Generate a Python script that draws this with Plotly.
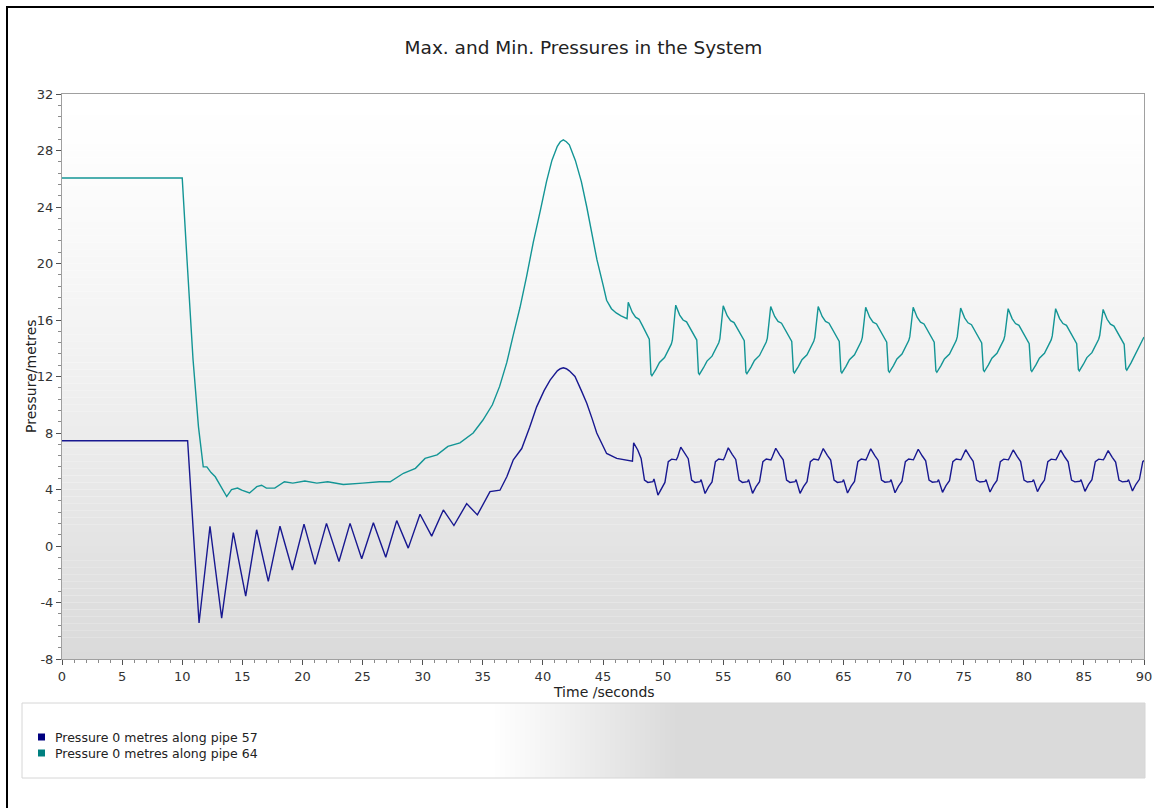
import plotly.graph_objects as go

# ---------------------------------------------------------------- text
TITLE = "Max. and Min. Pressures in the System"
X_TITLE = "Time /seconds"
Y_TITLE = "Pressure/metres"
NAME_57 = "Pressure 0 metres along pipe 57"
NAME_64 = "Pressure 0 metres along pipe 64"

# ---------------------------------------------------------------- axes
X_RANGE = [0, 90]
Y_RANGE = [-8, 32]
X_TICKS = [0, 5, 10, 15, 20, 25, 30, 35, 40, 45, 50, 55, 60, 65, 70, 75, 80, 85, 90]
Y_TICKS = [-8, -4, 0, 4, 8, 12, 16, 20, 24, 28, 32]

# ---------------------------------------------------------------- series: pipe 57 (blue)
time_57 = (
    [0.0, 10.45, 11.4, 12.31, 13.28, 14.25, 15.28, 16.19, 17.16, 18.13, 19.16, 20.13, 21.05, 22.0,
     23.04, 23.96, 24.93, 25.9, 26.93, 27.84, 28.8, 29.78, 30.75, 31.72, 32.6, 33.66, 34.55, 35.6,
     36.43, 37.0, 37.54, 38.24, 38.9, 39.48, 40.1, 40.6, 41.2, 41.45, 41.7, 41.95, 42.2, 42.67,
     43.2, 43.65, 44.1, 44.48, 45.3, 46.14, 47.45]
    + [47.55, 47.89, 48.17, 48.45, 48.73, 49.15, 49.24, 49.57, 49.86, 50.15, 50.43, 50.71, 51.1, 51.21]
    + [51.47, 51.81, 52.09, 52.37, 52.65, 53.07, 53.16, 53.49, 53.78, 54.07, 54.35, 54.63, 55.02, 55.13]
    + [55.42, 55.76, 56.04, 56.32, 56.60, 57.02, 57.11, 57.44, 57.73, 58.02, 58.30, 58.58, 58.97, 59.08]
    + [59.37, 59.71, 59.99, 60.27, 60.55, 60.97, 61.06, 61.39, 61.68, 61.97, 62.25, 62.53, 62.92, 63.03]
    + [63.32, 63.66, 63.94, 64.22, 64.50, 64.92, 65.01, 65.34, 65.63, 65.92, 66.20, 66.48, 66.87, 66.98]
    + [67.27, 67.61, 67.89, 68.17, 68.45, 68.87, 68.96, 69.29, 69.58, 69.87, 70.15, 70.43, 70.82, 70.93]
    + [71.22, 71.56, 71.84, 72.12, 72.40, 72.82, 72.91, 73.24, 73.53, 73.82, 74.10, 74.38, 74.77, 74.88]
    + [75.17, 75.51, 75.79, 76.07, 76.35, 76.77, 76.86, 77.19, 77.48, 77.77, 78.05, 78.33, 78.72, 78.83]
    + [79.12, 79.46, 79.74, 80.02, 80.30, 80.72, 80.81, 81.14, 81.43, 81.72, 82.00, 82.28, 82.67, 82.78]
    + [83.07, 83.41, 83.69, 83.97, 84.25, 84.67, 84.76, 85.09, 85.38, 85.67, 85.95, 86.23, 86.62, 86.73]
    + [87.02, 87.36, 87.64, 87.92, 88.20, 88.62, 88.71, 89.04, 89.33, 89.62, 89.90, 90.0]
)
pressure_57 = (
    [7.45, 7.45, -5.45, 1.4, -5.1, 0.95, -3.55, 1.15, -2.5, 1.4, -1.7, 1.55, -1.3, 1.6,
     -1.1, 1.6, -0.9, 1.65, -0.8, 1.8, -0.15, 2.25, 0.7, 2.55, 1.45, 3.0, 2.2, 3.85,
     3.95, 4.9, 6.1, 6.9, 8.4, 9.85, 11.0, 11.75, 12.4, 12.55, 12.62, 12.55, 12.4, 12.0,
     11.0, 10.1, 9.0, 8.0, 6.55, 6.2, 6.0]
    + [7.3, 6.8, 6.2, 4.67, 4.5, 4.55, 4.75, 3.6, 4.1, 4.5, 5.97, 6.15, 6.1, 6.3]
    + [7.0, 6.52, 6.18, 4.67, 4.5, 4.55, 4.7, 3.72, 4.19, 4.54, 5.97, 6.16, 6.1, 6.3]
    + [6.95, 6.47, 6.13, 4.67, 4.5, 4.55, 4.7, 3.73, 4.2, 4.55, 5.97, 6.16, 6.1, 6.3]
    + [6.92, 6.44, 6.1, 4.67, 4.5, 4.55, 4.7, 3.73, 4.2, 4.55, 5.97, 6.16, 6.1, 6.3]
    + [6.9, 6.42, 6.08, 4.67, 4.5, 4.55, 4.7, 3.75, 4.22, 4.57, 5.97, 6.16, 6.1, 6.3]
    + [6.88, 6.4, 6.06, 4.67, 4.52, 4.56, 4.7, 3.77, 4.24, 4.59, 5.97, 6.16, 6.1, 6.3]
    + [6.85, 6.37, 6.03, 4.67, 4.52, 4.56, 4.7, 3.8, 4.27, 4.62, 5.97, 6.16, 6.1, 6.28]
    + [6.82, 6.34, 6.0, 4.67, 4.53, 4.57, 4.7, 3.82, 4.29, 4.64, 5.97, 6.15, 6.1, 6.28]
    + [6.8, 6.32, 5.98, 4.67, 4.53, 4.57, 4.7, 3.85, 4.32, 4.67, 5.97, 6.15, 6.1, 6.27]
    + [6.78, 6.3, 5.96, 4.67, 4.54, 4.58, 4.7, 3.87, 4.34, 4.69, 5.97, 6.15, 6.1, 6.26]
    + [6.76, 6.28, 5.94, 4.67, 4.54, 4.58, 4.7, 3.9, 4.37, 4.72, 5.97, 6.05]
)

# ---------------------------------------------------------------- series: pipe 64 (teal)
time_64 = (
    [0.0, 10.0, 10.4, 10.9, 11.35, 11.75, 12.05, 12.4, 12.75, 13.2, 13.7, 14.1, 14.6, 14.95, 15.6,
     16.2, 16.6, 17.0, 17.7, 18.5, 19.2, 20.2, 21.2, 22.1, 23.4, 25.0, 26.4, 27.3, 28.4, 29.4,
     30.2, 31.2, 32.1, 33.1, 34.2, 35.0, 35.8, 36.4, 37.0, 37.5, 38.1, 38.65, 39.2, 39.8, 40.3,
     40.75, 41.2, 41.45, 41.7, 41.95, 42.2, 42.7, 43.2, 43.65, 44.1, 44.5, 45.0, 45.3, 45.7,
     46.1, 46.5, 47.0]
    + [47.1, 47.43, 47.71, 48.0, 48.28, 48.7, 48.85, 48.99, 49.07, 49.41, 49.7, 50.12, 50.4, 50.68, 50.77]
    + [51.05, 51.38, 51.66, 51.95, 52.23, 52.65, 52.80, 52.94, 53.02, 53.36, 53.65, 54.07, 54.35, 54.63, 54.72]
    + [55.00, 55.33, 55.61, 55.90, 56.18, 56.60, 56.75, 56.89, 56.97, 57.31, 57.60, 58.02, 58.30, 58.58, 58.67]
    + [58.95, 59.28, 59.56, 59.85, 60.13, 60.55, 60.70, 60.84, 60.92, 61.26, 61.55, 61.97, 62.25, 62.53, 62.62]
    + [62.90, 63.23, 63.51, 63.80, 64.08, 64.50, 64.65, 64.79, 64.87, 65.21, 65.50, 65.92, 66.20, 66.48, 66.57]
    + [66.85, 67.18, 67.46, 67.75, 68.03, 68.45, 68.60, 68.74, 68.82, 69.16, 69.45, 69.87, 70.15, 70.43, 70.52]
    + [70.80, 71.13, 71.41, 71.70, 71.98, 72.40, 72.55, 72.69, 72.77, 73.11, 73.40, 73.82, 74.10, 74.38, 74.47]
    + [74.75, 75.08, 75.36, 75.65, 75.93, 76.35, 76.50, 76.64, 76.72, 77.06, 77.35, 77.77, 78.05, 78.33, 78.42]
    + [78.70, 79.03, 79.31, 79.60, 79.88, 80.30, 80.45, 80.59, 80.67, 81.01, 81.30, 81.72, 82.00, 82.28, 82.37]
    + [82.65, 82.98, 83.26, 83.55, 83.83, 84.25, 84.40, 84.54, 84.62, 84.96, 85.25, 85.67, 85.95, 86.23, 86.32]
    + [86.60, 86.93, 87.21, 87.50, 87.78, 88.20, 88.35, 88.49, 88.57, 88.91, 89.2, 89.55, 89.8, 90.0]
)
pressure_64 = (
    [26.05, 26.05, 20.25, 13.2, 8.45, 5.6, 5.6, 5.2, 4.9, 4.2, 3.5, 4.0, 4.1, 3.95, 3.75,
     4.2, 4.3, 4.1, 4.1, 4.55, 4.45, 4.6, 4.45, 4.55, 4.35, 4.45, 4.55, 4.55, 5.15, 5.5,
     6.2, 6.45, 7.05, 7.3, 8.0, 8.9, 10.0, 11.3, 13.0, 14.8, 16.9, 19.1, 21.5, 23.8, 25.8,
     27.3, 28.3, 28.62, 28.75, 28.62, 28.4, 27.3, 25.8, 24.0, 22.0, 20.25, 18.5, 17.4, 16.8,
     16.5, 16.3, 16.1]
    + [17.25, 16.55, 16.2, 16.05, 15.6, 14.95, 14.65, 12.15, 12.05, 12.52, 12.99, 13.34, 13.82, 14.29, 14.57]
    + [17.05, 16.35, 16.0, 15.87, 15.41, 14.81, 14.58, 12.25, 12.15, 12.62, 13.09, 13.44, 13.92, 14.39, 14.67]
    + [17.0, 16.3, 15.95, 15.82, 15.36, 14.76, 14.53, 12.3, 12.2, 12.67, 13.14, 13.49, 13.97, 14.44, 14.72]
    + [16.95, 16.25, 15.9, 15.77, 15.31, 14.71, 14.48, 12.35, 12.25, 12.72, 13.19, 13.54, 14.02, 14.49, 14.77]
    + [16.95, 16.25, 15.9, 15.77, 15.31, 14.71, 14.48, 12.35, 12.25, 12.72, 13.19, 13.54, 14.02, 14.49, 14.77]
    + [16.9, 16.2, 15.85, 15.72, 15.26, 14.66, 14.43, 12.4, 12.3, 12.77, 13.24, 13.59, 14.07, 14.54, 14.82]
    + [16.9, 16.2, 15.85, 15.72, 15.26, 14.66, 14.43, 12.4, 12.3, 12.77, 13.24, 13.59, 14.07, 14.54, 14.82]
    + [16.85, 16.15, 15.8, 15.67, 15.21, 14.61, 14.38, 12.45, 12.35, 12.82, 13.29, 13.64, 14.12, 14.59, 14.87]
    + [16.8, 16.1, 15.75, 15.62, 15.16, 14.56, 14.33, 12.45, 12.35, 12.82, 13.29, 13.64, 14.12, 14.59, 14.87]
    + [16.8, 16.1, 15.75, 15.62, 15.16, 14.56, 14.33, 12.5, 12.4, 12.87, 13.34, 13.69, 14.17, 14.64, 14.92]
    + [16.75, 16.05, 15.7, 15.57, 15.11, 14.51, 14.28, 12.55, 12.45, 12.95, 13.45, 14.0, 14.5, 14.8]
)

assert len(time_57) == len(pressure_57), (len(time_57), len(pressure_57))
assert len(time_64) == len(pressure_64), (len(time_64), len(pressure_64))

# ---------------------------------------------------------------- styles
LINE_57 = "#181890"
LINE_64 = "#139595"
KEY_57 = "#000080"
KEY_64 = "#008080"
FONT = "DejaVu Sans"
TEXT = "#222222"

W, H = 1154, 808
PL, PR, PT, PB = 62, 1144, 94, 659  # plot area in pixels


def px2x(px):
    return (px - PL) / (PR - PL)


def py2y(py):
    return (PB - py) / (PB - PT)


def grey(v):
    v = int(round(v))
    return f"rgb({v},{v},{v})"


fig = go.Figure()
fig.add_trace(go.Scatter(x=time_57, y=pressure_57, mode="lines", name=NAME_57,
                         line=dict(color=LINE_57, width=1.4), showlegend=False))
fig.add_trace(go.Scatter(x=time_64, y=pressure_64, mode="lines", name=NAME_64,
                         line=dict(color=LINE_64, width=1.4), showlegend=False))

shapes = []
# vertical gradient of plot background
N = 80
for i in range(N):
    f = (i + 0.5) / N
    shapes.append(dict(type="rect", xref="paper", yref="paper", layer="below",
                       x0=0, x1=1, y0=1 - i / N, y1=1 - (i + 1) / N,
                       fillcolor=grey(255 - 37 * f ** 1.3), line=dict(width=0)))

# legend box with horizontal gradient
LX0, LX1, LY0, LY1 = 22, 1145, 703, 778
GX0, GX1 = 490, 680
shapes.append(dict(type="rect", xref="paper", yref="paper", layer="below",
                   x0=px2x(LX0), x1=px2x(GX0), y0=py2y(LY0), y1=py2y(LY1),
                   fillcolor="white", line=dict(width=0)))
M = 38
for i in range(M):
    a = GX0 + (GX1 - GX0) * i / M
    b = GX0 + (GX1 - GX0) * (i + 1) / M
    f = (i + 0.5) / M
    shapes.append(dict(type="rect", xref="paper", yref="paper", layer="below",
                       x0=px2x(a), x1=px2x(b) + 0.0005, y0=py2y(LY0), y1=py2y(LY1),
                       fillcolor=grey(255 - 37 * f), line=dict(width=0)))
shapes.append(dict(type="rect", xref="paper", yref="paper", layer="below",
                   x0=px2x(GX1), x1=px2x(LX1), y0=py2y(LY0), y1=py2y(LY1),
                   fillcolor=grey(218), line=dict(width=0)))
shapes.append(dict(type="rect", xref="paper", yref="paper", layer="above",
                   x0=px2x(LX0), x1=px2x(LX1), y0=py2y(LY0), y1=py2y(LY1),
                   fillcolor="rgba(0,0,0,0)", line=dict(color="#d6d6d6", width=1)))

# legend keys
for cy, col in [(737, KEY_57), (753, KEY_64)]:
    shapes.append(dict(type="rect", xref="paper", yref="paper", layer="above",
                       x0=px2x(38), x1=px2x(45), y0=py2y(cy - 3.5), y1=py2y(cy + 3.5),
                       fillcolor=col, line=dict(width=0)))

# outer black frame (left and top)
shapes.append(dict(type="line", xref="paper", yref="paper", layer="above",
                   x0=px2x(7), x1=px2x(7), y0=py2y(6), y1=py2y(H + 5),
                   line=dict(color="black", width=2)))
shapes.append(dict(type="line", xref="paper", yref="paper", layer="above",
                   x0=px2x(6), x1=px2x(W + 5), y0=py2y(7), y1=py2y(7),
                   line=dict(color="black", width=2)))

annotations = [
    dict(text=X_TITLE, xref="paper", yref="paper", x=px2x(604), y=py2y(692),
         xanchor="center", yanchor="middle", showarrow=False,
         font=dict(family=FONT, size=14, color=TEXT)),
    dict(text=Y_TITLE, xref="paper", yref="paper", x=px2x(31), y=py2y(376),
         xanchor="center", yanchor="middle", showarrow=False, textangle=-90,
         font=dict(family=FONT, size=14, color=TEXT)),
    dict(text=NAME_57, xref="paper", yref="paper", x=px2x(53), y=py2y(737),
         xanchor="left", yanchor="middle", showarrow=False,
         font=dict(family=FONT, size=12.5, color=TEXT)),
    dict(text=NAME_64, xref="paper", yref="paper", x=px2x(53), y=py2y(753),
         xanchor="left", yanchor="middle", showarrow=False,
         font=dict(family=FONT, size=12.5, color=TEXT)),
]

axis_common = dict(
    showline=True, linecolor="#a0a0a0", linewidth=1, mirror=True, automargin=False,
    showgrid=False, zeroline=False, ticks="outside", ticklen=5, tickwidth=1,
    tickcolor="#505050", tickfont=dict(family=FONT, size=13, color="#333333"),
)

fig.update_layout(
    width=W, height=H, autosize=False,
    margin=dict(l=PL, r=W - PR, t=PT, b=H - PB, pad=0, autoexpand=False),
    paper_bgcolor="white", plot_bgcolor="white",
    showlegend=False,
    title=dict(text=TITLE, x=583.5 / W, xref="container", xanchor="center",
               y=1 - 48 / H, yref="container", yanchor="middle", automargin=False,
               font=dict(family=FONT, size=18.5, color=TEXT)),
    xaxis=dict(range=X_RANGE, tickmode="array", tickvals=X_TICKS,
               ticktext=[str(v) for v in X_TICKS],
               minor=dict(ticks="outside", ticklen=3, tickcolor="#8a8a8a",
                          tickmode="linear", tick0=0, dtick=1, showgrid=False),
               **axis_common),
    yaxis=dict(range=Y_RANGE, tickmode="array", tickvals=Y_TICKS,
               ticktext=[str(v) for v in Y_TICKS],
               minor=dict(ticks="outside", ticklen=3, tickcolor="#8a8a8a",
                          tickmode="linear", tick0=0, dtick=0.8, showgrid=False),
               **axis_common),
    shapes=shapes,
    annotations=annotations,
)

# the page's default 8px body margin would shift the whole figure; remove it
fig.write_html(
    "out.html",
    config={"displayModeBar": False, "responsive": False},
    default_width=W, default_height=H,
    post_script="document.body.style.margin='0px';document.body.style.overflow='hidden';",
)
